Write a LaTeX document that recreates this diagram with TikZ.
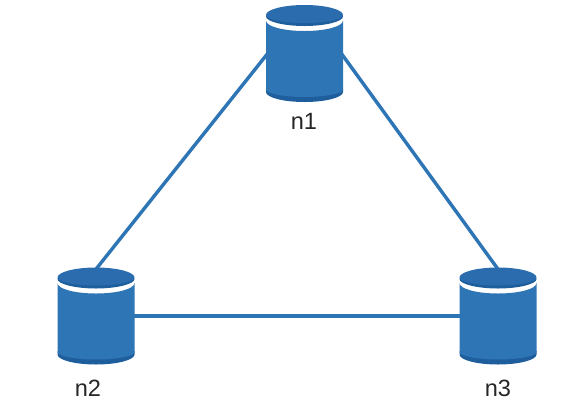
\documentclass[tikz,border=0pt]{standalone}
\usepackage{fontspec}
\setmainfont{Liberation Sans}
\definecolor{dbbody}{HTML}{2E75B6}
\definecolor{dbtop}{HTML}{2A6CAD}
\definecolor{dbrim}{HTML}{1F5E9C}
\tikzset{
  dbnode/.style={minimum width=1.46cm, minimum height=1.86cm, inner sep=0pt},
  dblabel/.style={font=\fontsize{13.4pt}{15pt}\selectfont, text=black!85},
  dblink/.style={dbbody, line width=1.95pt},
  dbcyl/.pic={
    \fill[dbrim] (-38.5,35) -- (-38.5,38.5) .. controls (-38.5,44) and (-21,48.5) .. (0,48.5)
      .. controls (21,48.5) and (38.5,44) .. (38.5,38.5) -- (38.5,35) -- cycle;
    \fill[dbbody] (-38.5,-33) .. controls (-38.5,-27) and (-21,-22.5) .. (0,-22.5)
      .. controls (21,-22.5) and (38.5,-27) .. (38.5,-33) -- (38.5,36)
      .. controls (38.5,40) and (21,43.5) .. (0,43.5)
      .. controls (-21,43.5) and (-38.5,40) .. (-38.5,36) -- cycle;
    \fill[dbrim] (-38.5,-37) .. controls (-38.5,-32) and (-21,-27.5) .. (0,-27.5)
      .. controls (21,-27.5) and (38.5,-32) .. (38.5,-37)
      .. controls (38.5,-42) and (21,-46.5) .. (0,-46.5)
      .. controls (-21,-46.5) and (-38.5,-42) .. (-38.5,-37) -- cycle;
    \fill[dbtop] (-38.5,-38.5) .. controls (-38.5,-34) and (-21,-30.5) .. (0,-30.5)
      .. controls (21,-30.5) and (38.5,-34) .. (38.5,-38.5)
      .. controls (38.5,-44) and (21,-48.5) .. (0,-48.5)
      .. controls (-21,-48.5) and (-38.5,-44) .. (-38.5,-38.5) -- cycle;
  }
}

\begin{document}
\begin{tikzpicture}[x=0.02cm, y=-0.02cm]
  \useasboundingbox (0,0) rectangle (576,407);
  \node[dbnode] (n1) at (304.5,53.5) {};
  \node[dbnode] (n2) at (96,316) {};
  \node[dbnode] (n3) at (498,316) {};
  \draw[dblink] (n1.west) -- (n2.north);
  \draw[dblink] (n1.east) -- (n3.north);
  \draw[dblink] (n2.east) -- (n3.west);
  \foreach \name in {n1,n2,n3}
    \pic at (\name) {dbcyl};
  \node[dblabel] (l1) at (304,121) {n1};
  \node[dblabel] (l2) at (88,388) {n2};
  \node[dblabel] (l3) at (498,388) {n3};
\end{tikzpicture}
\end{document}
